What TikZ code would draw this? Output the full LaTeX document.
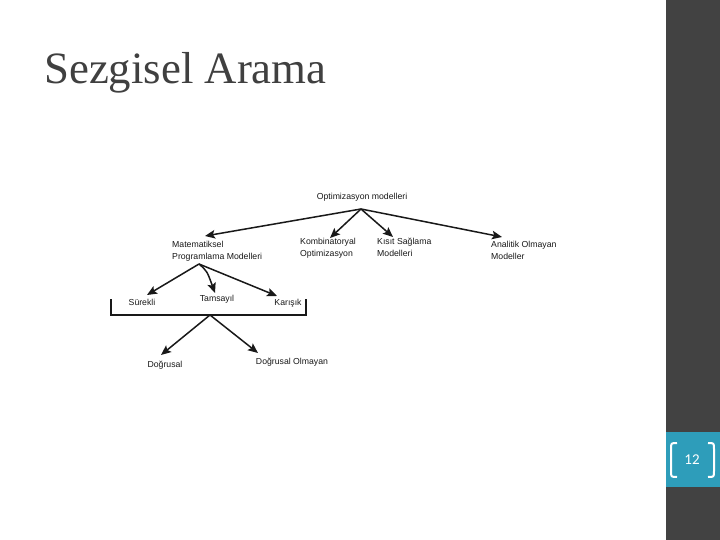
\documentclass[tikz,border=0pt]{standalone}
\usepackage{fontspec}
\setmainfont{Liberation Serif}
\newfontfamily\diag{Liberation Sans}
\newfontfamily\numfont{Carlito}
\usetikzlibrary{arrows.meta}
\definecolor{bar}{HTML}{424242}
\definecolor{teal}{HTML}{2E9DBA}
\definecolor{titlec}{HTML}{404040}
\tikzset{
  lbl/.style={font=\diag\fontsize{8.7}{12}\selectfont, inner sep=0pt, align=left, text=black!90},
  arr/.style={-{Stealth[length=10pt,width=8.5pt,inset=2pt]}, line width=1.5pt, black!90},
  plain/.style={line width=1.5pt, black!90}
}
\begin{document}
\begin{tikzpicture}[x=1pt,y=-1pt]
\useasboundingbox (0,0) rectangle (720,540);
\fill[white] (0,0) rectangle (720,540);
% right bar
\fill[bar] (666,0) rectangle (720,540);
\fill[teal] (666,432) rectangle (720,487);
\node[font=\numfont\fontsize{15}{15}\selectfont, text=white] (num) at (692,460) {12};
\draw[white, line width=2pt] (677,443) .. controls (671,443) and (671,443) .. (671,449) -- (671,471) .. controls (671,477) and (671,477) .. (677,477);
\draw[white, line width=2pt] (708,443) .. controls (714,443) and (714,443) .. (714,449) -- (714,471) .. controls (714,477) and (714,477) .. (708,477);
% title
\node[anchor=base west, font=\fontsize{44.8}{45}\selectfont, text=titlec, inner sep=0pt] (title) at (44,84) {Sezgisel Arama};
% diagram
\node[lbl] (opt) at (362,197) {Optimizasyon modelleri};
\coordinate (s1) at (361,209);
\node[lbl, anchor=north west] (mat) at (172,241) {Matematiksel\\Programlama Modelleri};
\node[lbl, anchor=north west] (kom) at (300,238) {Kombinatoryal\\Optimizasyon};
\node[lbl, anchor=north west] (kis) at (377,238) {Kısıt Sağlama\\Modelleri};
\node[lbl, anchor=north west] (ana) at (491,241) {Analitik Olmayan\\Modeller};
\coordinate (t1) at (205,236);
\coordinate (t2) at (330,238);
\coordinate (t3) at (393,237);
\coordinate (t4) at (502,237);
\draw[arr] (s1) -- (t1);
\draw[arr] (s1) -- (t2);
\draw[arr] (s1) -- (t3);
\draw[arr] (s1) -- (t4);
% second level
\coordinate (s2) at (199,264);
\node[lbl] (sur) at (142,302) {Sürekli};
\node[lbl] (tam) at (217,299) {Tamsayıl};
\node[lbl] (kar) at (288,303) {Karışık};
\draw[arr] (s2) -- (147,295);
\draw[arr] (s2) .. controls (207,271) .. (215,293);
\draw[arr] (s2) -- (277,296);
% bracket
\coordinate (b1) at (111,299);
\coordinate (b2) at (111,315);
\coordinate (b3) at (306,315);
\coordinate (b4) at (306,299);
\draw[plain] (b1) -- (b2) -- (b3) -- (b4);
\coordinate (s3) at (210,315);
\node[lbl] (dog) at (165,365) {Doğrusal};
\node[lbl] (dogo) at (292,362) {Doğrusal Olmayan};
\draw[arr] (s3) -- (161,355);
\draw[arr] (s3) -- (258,353);
\end{tikzpicture}
\end{document}
